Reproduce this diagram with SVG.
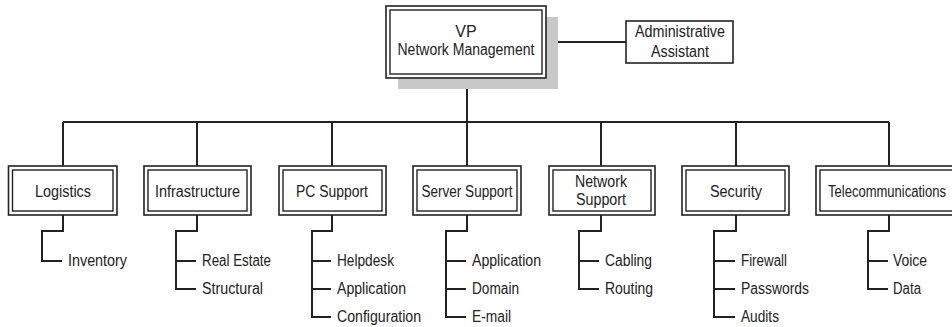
<svg xmlns="http://www.w3.org/2000/svg" width="952" height="327" viewBox="0 0 952 327">
<style>
.o{fill:#fff;stroke:#222;stroke-width:1.6}
.i{fill:none;stroke:#222;stroke-width:1.4}
.c{fill:none;stroke:#222;stroke-width:2}
text{font-family:"Liberation Sans",Arial,sans-serif;font-size:16px;fill:#222}
.m{text-anchor:middle}
</style>
<rect width="952" height="327" fill="#fff"/>
<g id="connectors">
<path class="c" d="M546 42H626M467 78V122M63 122H889M63 122V166M197 122V166M332 122V166M467 122V166M601 122V166M736 122V166M889 122V166"/>
<path class="c" d="M63 215V231H42V261H62"/>
<path class="c" d="M197 215V231H176V289H196M176 261H196"/>
<path class="c" d="M332 215V231H312V317H331M312 261H331M312 289H331"/>
<path class="c" d="M467 215V231H446V317H466M446 261H466M446 289H466"/>
<path class="c" d="M601 215V231H579V289H599M579 261H599"/>
<path class="c" d="M736 215V231H714V317H735M714 261H735M714 289H735"/>
<path class="c" d="M889 215V231H868V289H888M868 261H888"/>
</g>
<g id="vp">
<rect x="398" y="17" width="160" height="72" fill="#c8c8c8"/>
<rect class="o" x="386" y="6" width="160" height="72"/>
<rect class="i" x="390" y="10" width="152" height="64"/>
<text class="m" x="466" y="37">VP</text>
<text class="m" x="466" y="55" textLength="137" lengthAdjust="spacingAndGlyphs">Network Management</text>
</g>
<g id="admin">
<rect class="o" x="626" y="21" width="107" height="42"/>
<text class="m" x="680" y="37" textLength="90" lengthAdjust="spacingAndGlyphs">Administrative</text>
<text class="m" x="680" y="57" textLength="58" lengthAdjust="spacingAndGlyphs">Assistant</text>
</g>
<g id="logistics">
<rect class="o" x="8.5" y="166" width="108.5" height="49"/>
<rect class="i" x="12.5" y="170" width="100.5" height="41"/>
<text class="m" x="63" y="197" textLength="56" lengthAdjust="spacingAndGlyphs">Logistics</text>
<text x="68" y="266" textLength="59" lengthAdjust="spacingAndGlyphs">Inventory</text>
</g>
<g id="infrastructure">
<rect class="o" x="144" y="166" width="107" height="49"/>
<rect class="i" x="148" y="170" width="99" height="41"/>
<text class="m" x="197.5" y="197" textLength="85" lengthAdjust="spacingAndGlyphs">Infrastructure</text>
<text x="202" y="266" textLength="69" lengthAdjust="spacingAndGlyphs">Real Estate</text>
<text x="202" y="294" textLength="61" lengthAdjust="spacingAndGlyphs">Structural</text>
</g>
<g id="pc-support">
<rect class="o" x="279" y="166" width="107" height="49"/>
<rect class="i" x="283" y="170" width="99" height="41"/>
<text class="m" x="332" y="197" textLength="72" lengthAdjust="spacingAndGlyphs">PC Support</text>
<text x="337" y="266" textLength="57" lengthAdjust="spacingAndGlyphs">Helpdesk</text>
<text x="337" y="294" textLength="69" lengthAdjust="spacingAndGlyphs">Application</text>
<text x="337" y="322" textLength="84" lengthAdjust="spacingAndGlyphs">Configuration</text>
</g>
<g id="server-support">
<rect class="o" x="413" y="166" width="108" height="49"/>
<rect class="i" x="417" y="170" width="100" height="41"/>
<text class="m" x="467" y="197" textLength="91" lengthAdjust="spacingAndGlyphs">Server Support</text>
<text x="472" y="266" textLength="69" lengthAdjust="spacingAndGlyphs">Application</text>
<text x="472" y="294" textLength="47" lengthAdjust="spacingAndGlyphs">Domain</text>
<text x="472" y="322" textLength="39" lengthAdjust="spacingAndGlyphs">E-mail</text>
</g>
<g id="network-support">
<rect class="o" x="549" y="166" width="106" height="49"/>
<rect class="i" x="553" y="170" width="98" height="41"/>
<text class="m" x="601" y="187" textLength="52" lengthAdjust="spacingAndGlyphs">Network</text>
<text class="m" x="601" y="205" textLength="50" lengthAdjust="spacingAndGlyphs">Support</text>
<text x="605" y="266" textLength="47" lengthAdjust="spacingAndGlyphs">Cabling</text>
<text x="605" y="294" textLength="48" lengthAdjust="spacingAndGlyphs">Routing</text>
</g>
<g id="security">
<rect class="o" x="682" y="166" width="107" height="49"/>
<rect class="i" x="686" y="170" width="99" height="41"/>
<text class="m" x="736" y="197" textLength="52" lengthAdjust="spacingAndGlyphs">Security</text>
<text x="741" y="266" textLength="46" lengthAdjust="spacingAndGlyphs">Firewall</text>
<text x="741" y="294" textLength="68" lengthAdjust="spacingAndGlyphs">Passwords</text>
<text x="741" y="322" textLength="38" lengthAdjust="spacingAndGlyphs">Audits</text>
</g>
<g id="telecommunications">
<rect class="o" x="816" y="166" width="146" height="49"/>
<rect class="i" x="820" y="170" width="138" height="41"/>
<text class="m" x="887" y="197" textLength="118" lengthAdjust="spacingAndGlyphs">Telecommunications</text>
<text x="893" y="266" textLength="34" lengthAdjust="spacingAndGlyphs">Voice</text>
<text x="893" y="294" textLength="28" lengthAdjust="spacingAndGlyphs">Data</text>
</g>
</svg>
